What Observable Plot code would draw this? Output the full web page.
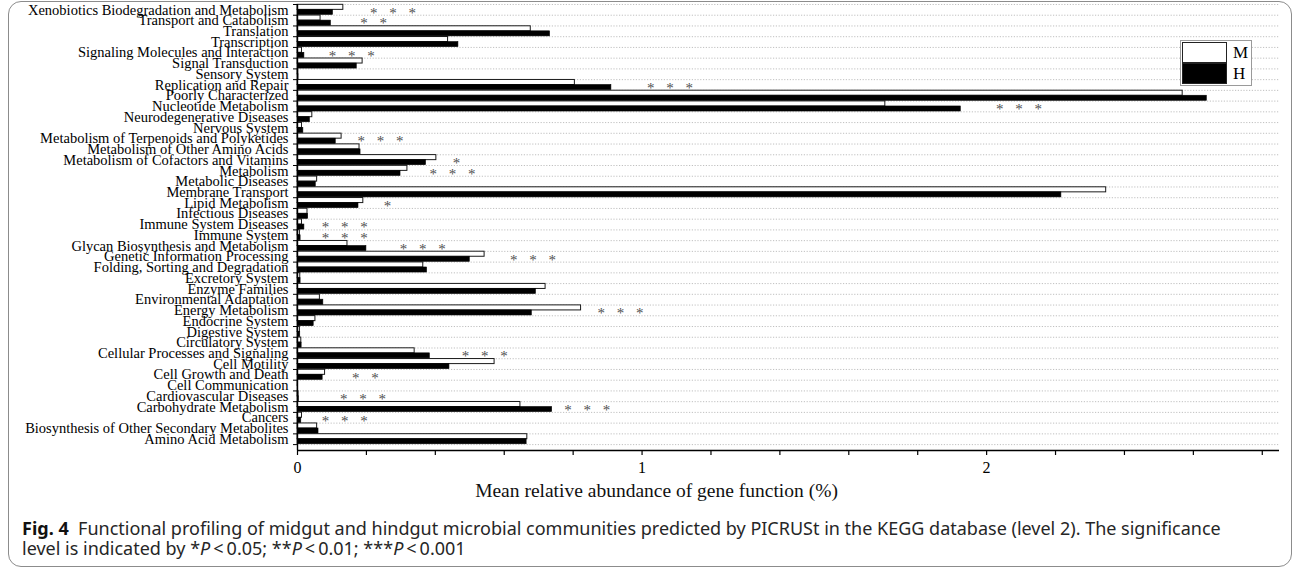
<!DOCTYPE html>
<html><head><meta charset="utf-8">
<script src="https://cdn.jsdelivr.net/npm/d3@7"></script>
<script src="https://cdn.jsdelivr.net/npm/@observablehq/plot@0.6"></script>
<style>
body{margin:0;background:#fff;width:1296px;height:569px;overflow:hidden;position:relative;}
#frame{position:absolute;left:8px;top:1px;width:1284px;height:566px;border:1.5px solid #8c8c8c;border-radius:13px;box-sizing:border-box;}
#chart{position:absolute;left:0;top:0;}
#xlabel{position:absolute;left:0;width:1313px;top:480px;text-align:center;font-family:"Liberation Serif",serif;font-size:19.5px;color:#111;}
#caption{position:absolute;left:22px;top:518px;font-family:"Noto Sans",sans-serif;font-size:18px;line-height:20px;color:#262626;white-space:nowrap;}
#caption b{color:#111;}
#legend{position:absolute;left:1180px;top:40px;width:72px;height:46px;border:1px solid #9a9a9a;box-sizing:border-box;background:#fff;font-family:"Liberation Serif",serif;font-size:17px;}
.sw{position:absolute;left:1px;width:45px;height:21px;box-sizing:border-box;border:1.3px solid #222;}
.lt{position:absolute;left:52px;line-height:21px;}
.stars text{letter-spacing:4px;}
</style></head><body>
<div id="frame"></div>
<div id="chart"></div>
<div id="legend">
  <div class="sw" style="top:1px;background:#fff"></div><div class="lt" style="top:1px">M</div>
  <div class="sw" style="top:22px;background:#000"></div><div class="lt" style="top:22px">H</div>
</div>
<div id="xlabel">Mean relative abundance of gene function (%)</div>
<div id="caption"><b>Fig. 4</b>&nbsp; Functional profiling of midgut and hindgut microbial communities predicted by PICRUSt in the KEGG database (level 2). The significance<br>level is indicated by *<i>P</i>&#8201;&lt;&#8201;0.05; **<i>P</i>&#8201;&lt;&#8201;0.01; ***<i>P</i>&#8201;&lt;&#8201;0.001</div>
<script>
// categories listed bottom to top
const categories = [
  "Amino Acid Metabolism",
  "Biosynthesis of Other Secondary Metabolites",
  "Cancers",
  "Carbohydrate Metabolism",
  "Cardiovascular Diseases",
  "Cell Communication",
  "Cell Growth and Death",
  "Cell Motility",
  "Cellular Processes and Signaling",
  "Circulatory System",
  "Digestive System",
  "Endocrine System",
  "Energy Metabolism",
  "Environmental Adaptation",
  "Enzyme Families",
  "Excretory System",
  "Folding, Sorting and Degradation",
  "Genetic Information Processing",
  "Glycan Biosynthesis and Metabolism",
  "Immune System",
  "Immune System Diseases",
  "Infectious Diseases",
  "Lipid Metabolism",
  "Membrane Transport",
  "Metabolic Diseases",
  "Metabolism",
  "Metabolism of Cofactors and Vitamins",
  "Metabolism of Other Amino Acids",
  "Metabolism of Terpenoids and Polyketides",
  "Nervous System",
  "Neurodegenerative Diseases",
  "Nucleotide Metabolism",
  "Poorly Characterized",
  "Replication and Repair",
  "Sensory System",
  "Signal Transduction",
  "Signaling Molecules and Interaction",
  "Transcription",
  "Translation",
  "Transport and Catabolism",
  "Xenobiotics Biodegradation and Metabolism"
];
const valuesM = [0.667,0.057,0.013,0.647,0.003,0.001,0.080,0.572,0.340,0.011,0.007,0.052,0.823,0.065,0.720,0.008,0.365,0.543,0.145,0.007,0.013,0.029,0.191,2.347,0.057,0.319,0.403,0.180,0.128,0.013,0.043,1.706,2.569,0.805,0.002,0.189,0.013,0.437,0.677,0.067,0.133];
const valuesH = [0.665,0.061,0.011,0.739,0.004,0.001,0.073,0.441,0.384,0.012,0.008,0.047,0.680,0.075,0.692,0.009,0.376,0.500,0.200,0.009,0.020,0.031,0.177,2.217,0.053,0.299,0.373,0.183,0.111,0.017,0.036,1.925,2.639,0.911,0.003,0.172,0.020,0.467,0.733,0.097,0.103];

// significance annotations
const sigCategory = ["Xenobiotics Biodegradation and Metabolism","Transport and Catabolism","Signaling Molecules and Interaction","Replication and Repair","Nucleotide Metabolism","Metabolism of Terpenoids and Polyketides","Metabolism of Cofactors and Vitamins","Metabolism","Lipid Metabolism","Immune System Diseases","Immune System","Glycan Biosynthesis and Metabolism","Genetic Information Processing","Energy Metabolism","Cellular Processes and Signaling","Cell Growth and Death","Cardiovascular Diseases","Carbohydrate Metabolism","Cancers"];
const sigLabel = ["***","**","***","***","***","***","*","***","*","***","***","***","***","***","***","**","***","***","***"];
const sigX = [0.283,0.227,0.163,1.087,2.100,0.247,0.467,0.456,0.267,0.143,0.143,0.369,0.689,0.943,0.549,0.203,0.196,0.847,0.143];

const xTicks = d3.range(0, 2.81, 0.2);
const xTickLabels = [0, 1, 2];

const n = categories.length;
const rows = categories.map((c, i) => ({c, i, M: valuesM[i], H: valuesH[i]}));
const sig = sigCategory.map((c, k) => ({i: categories.indexOf(c), label: sigLabel[k].split("").join(" "), x: sigX[k]}));
const yDomain = [-0.55, n];
const serif = "Liberation Serif, Times New Roman, serif";

const chart = Plot.plot({
  width: 1296,
  height: 480,
  marginLeft: 297,
  marginRight: 17,
  marginTop: 4,
  marginBottom: 30,
  style: {fontFamily: serif, background: "transparent", color: "#000"},
  x: {domain: [0, 2.85]},
  y: {domain: yDomain},
  marks: [
    Plot.ruleY(d3.range(0, n + 1), {stroke: "#b0b0b0", strokeWidth: 0.8, strokeDasharray: "1.2,1.6"}),
    Plot.rectX(rows, {x1: 0, x2: "M", y1: d => d.i + 0.5, y2: d => d.i + 0.97, fill: "#fff", stroke: "#1a1a1a", strokeWidth: 1}),
    Plot.rectX(rows, {x1: 0, x2: "H", y1: d => d.i + 0.03, y2: d => d.i + 0.5, fill: "#000", stroke: "#000", strokeWidth: 0.6}),
    Plot.text(sig, {x: "x", y: d => d.i + 0.5, text: "label", fontSize: 15, fill: "#505050", dy: 3, className: "stars"}),
    Plot.ruleX([0], {stroke: "#000", strokeWidth: 1.4}),
    Plot.ruleY([yDomain[0]], {stroke: "#000", strokeWidth: 1.6}),
    Plot.axisY({ticks: d3.range(0, n + 1), tickSize: 4, tickFormat: () => "", label: null, stroke: "#000"}),
    Plot.axisY({ticks: d3.range(n).map(i => i + 0.5), tickSize: 0, tickPadding: 9, tickFormat: d => categories[Math.floor(d)], label: null, fontSize: 14.5, fill: "#000"}),
    Plot.axisX({ticks: xTicks, tickSize: 5, tickPadding: 6, tickFormat: d => xTickLabels.includes(Math.round(d * 10) / 10) ? String(Math.round(d)) : "", label: null, fontSize: 16, fill: "#000", stroke: "#000", strokeWidth: 1.2})
  ]
});
document.getElementById("chart").appendChild(chart);
</script>
</body></html>
